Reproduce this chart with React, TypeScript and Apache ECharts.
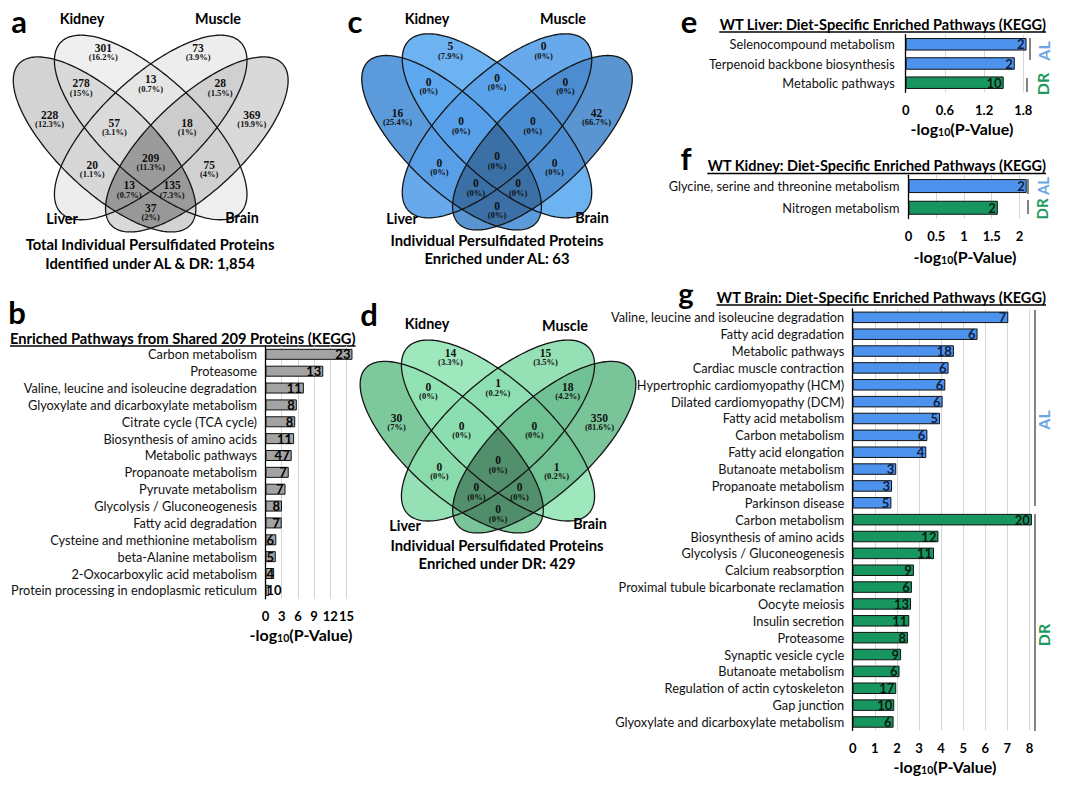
import React, { useEffect, useRef } from 'react';
import * as echarts from 'echarts';

// ---------------- DATA ----------------
const vennSetNames = ['Kidney', 'Muscle', 'Liver', 'Brain'];
// region order: K, M, KL, KM, MB, L, KLM, KMB, B, KLMB, LM, KB, LMB, KLB, LB
const vennRegionKeys = ['K', 'M', 'KL', 'KM', 'MB', 'L', 'KLM', 'KMB', 'B', 'KLMB', 'LM', 'KB', 'LMB', 'KLB', 'LB'];
const vennCountsA = [301, 73, 278, 13, 28, 228, 57, 18, 369, 209, 20, 75, 13, 135, 37];
const vennPctsA = ['16.2%', '3.9%', '15%', '0.7%', '1.5%', '12.3%', '3.1%', '1%', '19.9%', '11.3%', '1.1%', '4%', '0.7%', '7.3%', '2%'];
const vennCountsC = [5, 0, 0, 0, 0, 16, 0, 0, 42, 0, 0, 0, 0, 0, 0];
const vennPctsC = ['7.9%', '0%', '0%', '0%', '0%', '25.4%', '0%', '0%', '66.7%', '0%', '0%', '0%', '0%', '0%', '0%'];
const vennCountsD = [14, 15, 0, 1, 18, 30, 0, 0, 350, 0, 0, 1, 0, 0, 0];
const vennPctsD = ['3.3%', '3.5%', '0%', '0.2%', '4.2%', '7%', '0%', '0%', '81.6%', '0%', '0%', '0.2%', '0%', '0%', '0%'];

const bCats = ['Carbon metabolism', 'Proteasome', 'Valine, leucine and isoleucine degradation', 'Glyoxylate and dicarboxylate metabolism', 'Citrate cycle (TCA cycle)', 'Biosynthesis of amino acids', 'Metabolic pathways', 'Propanoate metabolism', 'Pyruvate metabolism', 'Glycolysis / Gluconeogenesis', 'Fatty acid degradation', 'Cysteine and methionine metabolism', 'beta-Alanine metabolism', '2-Oxocarboxylic acid metabolism', 'Protein processing in endoplasmic reticulum'];
const bValues = [16.1, 10.7, 7.1, 5.8, 5.5, 5.3, 4.85, 4.3, 3.7, 3.05, 3.0, 2.0, 1.9, 1.6, 0.7];
const bCounts = [23, 13, 11, 8, 8, 11, 47, 7, 7, 8, 7, 6, 5, 4, 10];

const eCatsAL = ['Selenocompound metabolism', 'Terpenoid backbone biosynthesis'];
const eValuesAL = [1.85, 1.67];
const eCountsAL = [2, 2];
const eCatsDR = ['Metabolic pathways'];
const eValuesDR = [1.5];
const eCountsDR = [10];

const fCatsAL = ['Glycine, serine and threonine metabolism'];
const fValuesAL = [2.13];
const fCountsAL = [2];
const fCatsDR = ['Nitrogen metabolism'];
const fValuesDR = [1.61];
const fCountsDR = [2];

const gCatsAL = ['Valine, leucine and isoleucine degradation', 'Fatty acid degradation', 'Metabolic pathways', 'Cardiac muscle contraction', 'Hypertrophic cardiomyopathy (HCM)', 'Dilated cardiomyopathy (DCM)', 'Fatty acid metabolism', 'Carbon metabolism', 'Fatty acid elongation', 'Butanoate metabolism', 'Propanoate metabolism', 'Parkinson disease'];
const gValuesAL = [7.04, 5.65, 4.58, 4.34, 4.19, 4.07, 3.95, 3.38, 3.33, 1.97, 1.78, 1.75];
const gCountsAL = [7, 6, 18, 6, 6, 6, 5, 6, 4, 3, 3, 5];
const gCatsDR = ['Carbon metabolism', 'Biosynthesis of amino acids', 'Glycolysis / Gluconeogenesis', 'Calcium reabsorption', 'Proximal tubule bicarbonate reclamation', 'Oocyte meiosis', 'Insulin secretion', 'Proteasome', 'Synaptic vesicle cycle', 'Butanoate metabolism', 'Regulation of actin cytoskeleton', 'Gap junction', 'Glyoxylate and dicarboxylate metabolism'];
const gValuesDR = [8.11, 3.88, 3.68, 2.77, 2.68, 2.64, 2.56, 2.5, 2.19, 2.12, 1.97, 1.88, 1.85];
const gCountsDR = [20, 12, 11, 9, 6, 13, 11, 8, 9, 6, 17, 10, 6];

// ---------------- STYLE ----------------
const FONT = 'Lato';
const SERIF = 'Liberation Serif';
const BLUE = '#4d93ee';
const GREEN = '#17975f';
const GRAYBAR = '#a3a3a3';
const AL_TXT = '#6aa6e4';
const DR_TXT = '#1d9a60';

// Venn geometry (unit coords, y up)
type Ell = { cx: number; cy: number; a: number; b: number; phi: number };
const ELL: Record<string, Ell> = {
  L: { cx: 0.354, cy: 0.474, a: 0.38, b: 0.15, phi: -Math.PI / 4 },
  K: { cx: 0.5, cy: 0.53, a: 0.4, b: 0.16, phi: -Math.PI / 4 },
  M: { cx: 0.5, cy: 0.53, a: 0.4, b: 0.16, phi: Math.PI / 4 },
  B: { cx: 0.646, cy: 0.474, a: 0.38, b: 0.15, phi: Math.PI / 4 },
};
const regionPos: Record<string, [number, number]> = {
  K: [0.35, 0.791], M: [0.65, 0.791], KL: [0.28, 0.675], KM: [0.5, 0.687], MB: [0.72, 0.675],
  L: [0.18, 0.571], KLM: [0.385, 0.544], KMB: [0.615, 0.544], B: [0.82, 0.571], KLMB: [0.5, 0.428],
  LM: [0.315, 0.406], KB: [0.685, 0.406], LMB: [0.432, 0.338], KLB: [0.568, 0.338], LB: [0.5, 0.263],
};

function ellPts(e: Ell, n = 240): number[][] {
  const pts: number[][] = [];
  for (let i = 0; i < n; i++) {
    const t = (i / n) * Math.PI * 2;
    const x = e.a * Math.cos(t), y = e.b * Math.sin(t);
    pts.push([e.cx + x * Math.cos(e.phi) - y * Math.sin(e.phi), e.cy + x * Math.sin(e.phi) + y * Math.cos(e.phi)]);
  }
  return pts;
}
function inEll(e: Ell, p: number[]) {
  const dx = p[0] - e.cx, dy = p[1] - e.cy;
  const x = dx * Math.cos(e.phi) + dy * Math.sin(e.phi);
  const y = -dx * Math.sin(e.phi) + dy * Math.cos(e.phi);
  return (x * x) / (e.a * e.a) + (y * y) / (e.b * e.b) <= 1.0000001;
}
function intersectPts(e1: Ell, e2: Ell) {
  const pts = ellPts(e1, 720).filter((p) => inEll(e2, p)).concat(ellPts(e2, 720).filter((p) => inEll(e1, p)));
  const cx = pts.reduce((s, p) => s + p[0], 0) / pts.length;
  const cy = pts.reduce((s, p) => s + p[1], 0) / pts.length;
  pts.sort((p, q) => Math.atan2(p[1] - cy, p[0] - cx) - Math.atan2(q[1] - cy, q[0] - cx));
  return pts;
}

let measureCtx: CanvasRenderingContext2D | null = null;
function textWidth(text: string, weight: string, size: number, family: string) {
  if (!measureCtx) measureCtx = document.createElement('canvas').getContext('2d');
  if (!measureCtx) return text.length * size * 0.5;
  measureCtx.font = `${weight} ${size}px ${family}`;
  return measureCtx.measureText(text).width;
}
function fitSize(text: string, weight: string, family: string, target: number) {
  return (100 * target) / textWidth(text, weight, 100, family);
}

type VennPanel = {
  cx: number; by: number; sx: number; sy: number;
  counts: number[]; pcts: string[];
  fills: Record<string, string>; lb: number;
  labels: number[][]; caption: string[]; capX: number; capY: number[];
};

function buildVenn(P: VennPanel, labelFont: number, capFont: number) {
  const toPx = (p: number[]) => [P.cx + (p[0] - 0.5) * P.sx, P.by - (p[1] - 0.185) * P.sy];
  const els: any[] = [];
  const order = ['L', 'K', 'M', 'B'];
  order.forEach((k) => {
    els.push({ type: 'polygon', silent: true, shape: { points: ellPts(ELL[k]).map(toPx) }, style: { fill: P.fills[k] } });
  });
  els.push({ type: 'polygon', silent: true, shape: { points: intersectPts(ELL.L, ELL.B).map(toPx) }, style: { fill: `rgba(0,0,0,${P.lb})` } });
  order.forEach((k) => {
    els.push({ type: 'polygon', silent: true, shape: { points: ellPts(ELL[k]).map(toPx) }, style: { fill: 'none', stroke: '#151515', lineWidth: 1.3 } });
  });
  vennRegionKeys.forEach((rk, i) => {
    const [x, y] = toPx(regionPos[rk]);
    els.push({ type: 'text', silent: true, x, y: y - 0.5, style: { text: String(P.counts[i]), fontFamily: SERIF, fontWeight: 'bold', fontSize: 11.5, fill: '#111', align: 'center', verticalAlign: 'middle' } });
    els.push({ type: 'text', silent: true, x, y: y + 9, style: { text: `(${P.pcts[i]})`, fontFamily: SERIF, fontWeight: 'bold', fontSize: 8.5, fill: '#111', align: 'center', verticalAlign: 'middle' } });
  });
  vennSetNames.forEach((n, i) => {
    els.push({ type: 'text', silent: true, x: P.labels[i][0], y: P.labels[i][1], style: { text: n, fontFamily: FONT, fontWeight: 'bold', fontSize: labelFont, fill: '#000', align: 'center', verticalAlign: 'middle' } });
  });
  P.caption.forEach((c, i) => {
    els.push({ type: 'text', silent: true, x: P.capX, y: P.capY[i], style: { text: c, fontFamily: FONT, fontWeight: 'bold', fontSize: capFont, fill: '#000', align: 'center', verticalAlign: 'middle' } });
  });
  return els;
}

type BarPanel = {
  cats: string[]; vals: number[]; counts: number[]; colors: string[]; labelColors: string[];
  left: number; top: number; width: number; height: number; max: number; interval: number; margin: number; barWidth: number;
};

function buildOption() {
  const catFont = Math.min(14, fitSize('Protein processing in endoplasmic reticulum', 'normal', FONT, 246));
  const capFont = Math.min(16, fitSize('Total Individual Persulfidated Proteins', 'bold', FONT, 249));
  const setFont = Math.min(17, fitSize('Muscle', 'bold', FONT, 46));

  const panels: BarPanel[] = [
    {
      cats: bCats, vals: bValues, counts: bCounts, colors: bCats.map(() => GRAYBAR), labelColors: bCats.map(() => '#000'),
      left: 265.5, top: 345.9, width: 87.5, height: 252.9, max: 16.2, interval: 3, margin: 8.5, barWidth: 11,
    },
    {
      cats: eCatsAL.concat(eCatsDR), vals: eValuesAL.concat(eValuesDR), counts: eCountsAL.concat(eCountsDR),
      colors: eCatsAL.map(() => BLUE).concat(eCatsDR.map(() => GREEN)),
      labelColors: eCatsAL.map(() => '#102040').concat(eCatsDR.map(() => '#0a1a10')),
      left: 905.7, top: 34.7, width: 124.1, height: 57.6, max: 1.9, interval: 0.6, margin: 11, barWidth: 12.5,
    },
    {
      cats: fCatsAL.concat(fCatsDR), vals: fValuesAL.concat(fValuesDR), counts: fCountsAL.concat(fCountsDR),
      colors: fCatsAL.map(() => BLUE).concat(fCatsDR.map(() => GREEN)),
      labelColors: fCatsAL.map(() => '#102040').concat(fCatsDR.map(() => '#0a1a10')),
      left: 908.5, top: 175.2, width: 119.3, height: 43.4, max: 2.15, interval: 0.5, margin: 9, barWidth: 14,
    },
    {
      cats: gCatsAL.concat(gCatsDR), vals: gValuesAL.concat(gValuesDR), counts: gCountsAL.concat(gCountsDR),
      colors: gCatsAL.map(() => BLUE).concat(gCatsDR.map(() => GREEN)),
      labelColors: gCatsAL.map(() => '#102040').concat(gCatsDR.map(() => '#0a1a10')),
      left: 852.7, top: 308.9, width: 181.2, height: 421.5, max: 8.2, interval: 1, margin: 8.5, barWidth: 11.5,
    },
  ];

  const grid: any[] = [], xAxis: any[] = [], yAxis: any[] = [], series: any[] = [];
  panels.forEach((p, i) => {
    grid.push({ left: p.left, top: p.top, width: p.width, height: p.height, containLabel: false, outerBoundsMode: 'none' });
    xAxis.push({
      type: 'value', gridIndex: i, min: 0, max: p.max, interval: p.interval,
      axisLine: { show: false }, axisTick: { show: false },
      splitLine: { show: true, showMaxLine: false, lineStyle: { color: '#d6d6d6', width: 1 } },
      axisLabel: { margin: 11, showMaxLabel: false, fontFamily: FONT, fontWeight: 'bold', fontSize: 13, color: '#000' },
    });
    yAxis.push({
      type: 'category', gridIndex: i, inverse: true, data: p.cats.map((_, j) => String(j)),
      axisLine: { show: true, lineStyle: { color: '#000', width: 1.3 } }, axisTick: { show: false },
      axisLabel: { margin: p.margin, interval: 0, fontFamily: FONT, fontSize: catFont, color: '#111', formatter: (v: string) => p.cats[+v] },
    });
    series.push({
      type: 'bar', xAxisIndex: i, yAxisIndex: i, barWidth: p.barWidth, clip: false, silent: true,
      itemStyle: { borderColor: '#111', borderWidth: 1 },
      data: p.vals.map((v, j) => {
        const w = (v / p.max) * p.width;
        const small = w < 12;
        return {
          value: v, itemStyle: { color: p.colors[j] },
          label: small ? { color: p.labelColors[j], position: 'insideLeft', distance: 1 } : { color: p.labelColors[j] },
        };
      }),
      label: {
        show: true, position: 'insideRight', distance: 2, fontFamily: FONT, fontWeight: 'bold', fontSize: 13,
        formatter: (q: any) => String(p.counts[q.dataIndex]),
      },
    });
  });

  const graphic: any[] = [];
  const venns: VennPanel[] = [
    {
      cx: 150.7, by: 232, sx: 316, sy: 303, counts: vennCountsA, pcts: vennPctsA,
      fills: { L: 'rgba(167,167,167,0.5)', K: 'rgba(223,223,223,0.5)', M: 'rgba(219,219,219,0.5)', B: 'rgba(179,179,179,0.5)' }, lb: 0.22,
      labels: [[82, 18], [218, 18], [62, 218], [242, 217]],
      caption: ['Total Individual Persulfidated Proteins', 'Identified under AL & DR: 1,854'], capX: 150, capY: [244, 263],
    },
    {
      cx: 497, by: 230, sx: 311, sy: 302, counts: vennCountsC, pcts: vennPctsC,
      fills: { L: 'rgba(74,144,215,0.9)', K: 'rgba(93,170,240,0.9)', M: 'rgba(88,160,233,0.9)', B: 'rgba(72,138,205,0.9)' }, lb: 0.2,
      labels: [[427, 18], [563, 18], [402, 218], [592, 217]],
      caption: ['Individual Persulfidated Proteins', 'Enriched under AL: 63'], capX: 497, capY: [240, 258],
    },
    {
      cx: 498, by: 533, sx: 317, sy: 297, counts: vennCountsD, pcts: vennPctsD,
      fills: { L: 'rgba(112,195,145,0.9)', K: 'rgba(149,229,183,0.9)', M: 'rgba(139,221,174,0.9)', B: 'rgba(108,190,143,0.9)' }, lb: 0.26,
      labels: [[427, 323], [565, 325], [405, 525], [590, 523]],
      caption: ['Individual Persulfidated Proteins', 'Enriched under DR: 429'], capX: 497, capY: [545, 563],
    },
  ];
  venns.forEach((v) => graphic.push(...buildVenn(v, setFont, capFont)));

  // panel letters
  const letters: [string, number, number][] = [['a', 19, 21], ['b', 17, 312], ['c', 355, 21], ['d', 369, 314], ['e', 689, 21], ['f', 686, 158], ['g', 686, 292]];
  letters.forEach(([t, x, y]) => graphic.push({ type: 'text', silent: true, x, y, style: { text: t, fontFamily: FONT, fontWeight: 'bold', fontSize: t === 'g' ? 29 : 31, fill: '#000', align: 'center', verticalAlign: 'middle' } }));

  // titles
  const titles: [string, number, number, 'left' | 'right', number][] = [
    ['Enriched Pathways from Shared 209 Proteins (KEGG)', 10, 338, 'left', 346],
    ['WT Liver: Diet-Specific Enriched Pathways (KEGG)', 1046, 24, 'right', 327],
    ['WT Kidney: Diet-Specific Enriched Pathways (KEGG)', 1046, 165.5, 'right', 339],
    ['WT Brain: Diet-Specific Enriched Pathways (KEGG)', 1046, 297, 'right', 330],
  ];
  titles.forEach(([t, x, y, al, tw]) => {
    const fs = Math.min(16, fitSize(t, 'bold', FONT, tw));
    graphic.push({ type: 'text', silent: true, x, y, style: { text: t, fontFamily: FONT, fontWeight: 'bold', fontSize: fs, fill: '#000', align: al, verticalAlign: 'middle' } });
    const w = textWidth(t, 'bold', fs, FONT);
    const x0 = al === 'left' ? x : x - w;
    graphic.push({ type: 'line', silent: true, shape: { x1: x0, y1: y + 8, x2: x0 + w, y2: y + 8 }, style: { stroke: '#000', lineWidth: 1.3 } });
  });

  // axis titles
  const axisTitles: [number, number][] = [[301, 634], [962, 128], [965, 256], [945, 766]];
  axisTitles.forEach(([x, y]) => graphic.push({
    type: 'text', silent: true, x, y,
    style: {
      text: '{a|-log}{s|10}{a|(P-Value)}', align: 'center', verticalAlign: 'middle',
      rich: {
        a: { fontFamily: FONT, fontWeight: 'bold', fontSize: 16, fill: '#000', lineHeight: 18, verticalAlign: 'middle' },
        s: { fontFamily: FONT, fontWeight: 'bold', fontSize: 10.5, fill: '#000', lineHeight: 3, verticalAlign: 'bottom' },
      },
    },
  }));

  // group brackets and labels
  const brackets: [number, number, number][] = [[1030, 38, 60], [1027, 78, 92], [1028, 179, 194], [1028, 200, 214], [1035, 310, 506], [1035, 514, 731]];
  brackets.forEach(([x, y1, y2]) => graphic.push({ type: 'line', silent: true, shape: { x1: x, y1, x2: x, y2 }, style: { stroke: '#333', lineWidth: 1.2 } }));
  const groupLabels: [string, number, number, string, number][] = [
    ['AL', 1043, 51, AL_TXT, 16], ['DR', 1042, 84, DR_TXT, 16],
    ['AL', 1043, 186, AL_TXT, 15], ['DR', 1042, 209, DR_TXT, 15],
    ['AL', 1043, 420, AL_TXT, 16], ['DR', 1043, 635, DR_TXT, 16],
  ];
  groupLabels.forEach(([t, x, y, c, fs]) => graphic.push({ type: 'text', silent: true, x, y, rotation: Math.PI / 2, style: { text: t, fontFamily: FONT, fontWeight: 'bold', fontSize: fs, fill: c, align: 'center', verticalAlign: 'middle' } }));

  return { animation: false, backgroundColor: '#ffffff', grid, xAxis, yAxis, series, graphic: { elements: graphic } };
}

export default function App() {
  const ref = useRef<HTMLDivElement>(null);
  useEffect(() => {
    document.body.style.margin = '0';
    const chart = echarts.init(ref.current as HTMLDivElement, null, { renderer: 'svg' });
    chart.setOption(buildOption() as any);
    return () => chart.dispose();
  }, []);
  return <div ref={ref} style={{ width: 1080, height: 786 }} />;
}
